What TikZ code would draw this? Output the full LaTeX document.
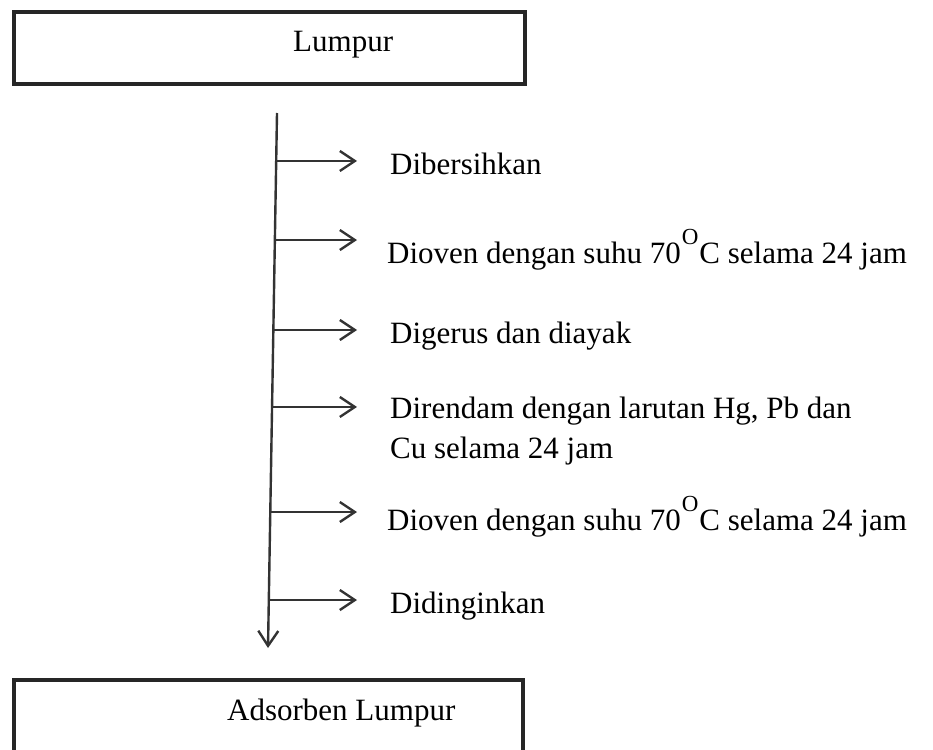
\documentclass[tikz,border=0pt]{standalone}
\usepackage{fontspec}
\setmainfont{Liberation Serif}
\usetikzlibrary{arrows.meta,calc}
\newcommand{\degO}{\kern1pt\raisebox{0.6em}{\fontsize{23}{23}\selectfont O}\kern1pt}
\begin{document}
\begin{tikzpicture}[x=1pt,y=-1pt,
  boxstyle/.style={draw=black!85,line width=3.4pt,minimum width=#1,inner sep=0pt},
  txt/.style={anchor=base west,inner sep=0pt,font=\rmfamily\fontsize{31}{40}\selectfont},
  arr/.style={draw=black!80,line width=2.4pt,-{Straight Barb[length=15pt,width=20pt]}}]
\useasboundingbox (0,0) rectangle (933,749);
% boxes
\node[boxstyle=511pt,minimum height=72pt] (topbox) at (269.5,48) {};
\node[txt] (lumpur) at (293,52) {Lumpur};
\node[boxstyle=509pt,minimum height=80pt] (botbox) at (268.5,720) {};
\node[txt] (adsorben) at (227,720) {Adsorben Lumpur};
% main flow
\coordinate (vtop) at (277,113);
\coordinate (vbot) at (268,648);
\coordinate (tipx) at (357,0);
\draw[arr] (vtop) -- (vbot);
\coordinate (s1) at ($(vtop)!0.0897!(vbot)$);
\coordinate (s2) at ($(vtop)!0.2374!(vbot)$);
\coordinate (s3) at ($(vtop)!0.4056!(vbot)$);
\coordinate (s4) at ($(vtop)!0.5495!(vbot)$);
\coordinate (s5) at ($(vtop)!0.7458!(vbot)$);
\coordinate (s6) at ($(vtop)!0.9103!(vbot)$);
\foreach \s in {s1,s2,s3,s4,s5,s6} \draw[arr] (\s) -- (\s -| tipx);
% labels
\node[txt] (t1) at (390,174) {Dibersihkan};
\node[txt] (t2) at (387,263) {Dioven dengan suhu 70\degO C selama 24 jam};
\node[txt] (t3) at (390,343) {Digerus dan diayak};
\node[txt] (t4a) at (390,418) {Direndam dengan larutan Hg, Pb dan};
\node[txt] (t4b) at (390,458) {Cu selama 24 jam};
\node[txt] (t5) at (387,530) {Dioven dengan suhu 70\degO C selama 24 jam};
\node[txt] (t6) at (390,613) {Didinginkan};
\end{tikzpicture}
\end{document}
